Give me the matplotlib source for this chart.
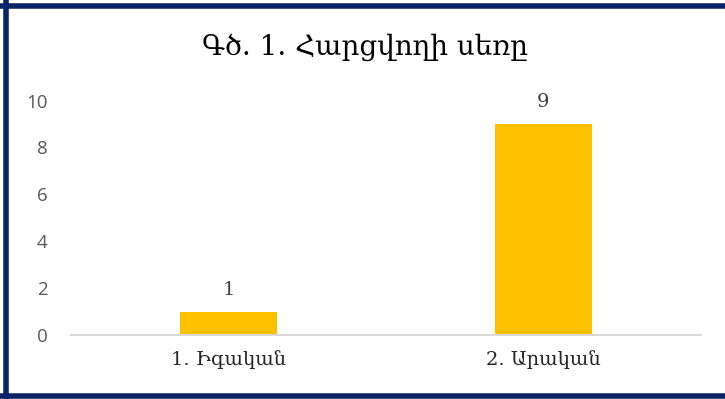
import matplotlib
matplotlib.use("Agg")
import matplotlib.pyplot as plt
from matplotlib.lines import Line2D

# respondents by sex
categories = ["1. Իգական", "2. Արական"]
counts = [1, 9]
title = "Գծ. 1. Հարցվողի սեռը"

fig = plt.figure(figsize=(7.25, 3.99), dpi=100)
ax = fig.add_axes([71/725, 1 - 335/399, 630/725, 234.5/399])

x = range(len(categories))
bars = ax.bar(x, counts, width=0.31, color="#FFC000", zorder=2)

ax.set_xlim(-0.5, 1.5)
ax.set_ylim(0, 10)
ax.set_yticks([0, 2, 4, 6, 8, 10])
ax.set_xticks(list(x))
ax.set_xticklabels(categories, family="DejaVu Serif", fontsize=14, color="#262626")

for s in ["top", "right", "left"]:
    ax.spines[s].set_visible(False)
ax.spines["bottom"].set_color("#D9D9D9")
ax.spines["bottom"].set_linewidth(1.5)
ax.tick_params(axis="both", length=0)
ax.tick_params(axis="x", pad=11)
ax.tick_params(axis="y", pad=17)
for lbl in ax.get_yticklabels():
    lbl.set_family("Open Sans")
    lbl.set_fontsize(13.5)
    lbl.set_color("#595959")

for b, v in zip(bars, counts):
    ax.annotate(str(v), (b.get_x() + b.get_width() / 2, v), xytext=(0, 9),
                textcoords="offset points", ha="center", va="bottom",
                family="DejaVu Serif", fontsize=14, color="#404040")

fig.text(365/725, 1 - 47/399, title, ha="center", va="center",
         family="DejaVu Serif", fontsize=20, color="#000000")

# dark frame on left, top and bottom
frame = dict(color="#0B2366", linewidth=4, transform=fig.transFigure, solid_capstyle="butt")
fig.add_artist(Line2D([5.5/725, 5.5/725], [0, 1], **frame))
fig.add_artist(Line2D([0, 1], [1 - 5.5/399, 1 - 5.5/399], **frame))
fig.add_artist(Line2D([0, 1], [3/399, 3/399], **frame))

fig.savefig("out.png", dpi=100)
